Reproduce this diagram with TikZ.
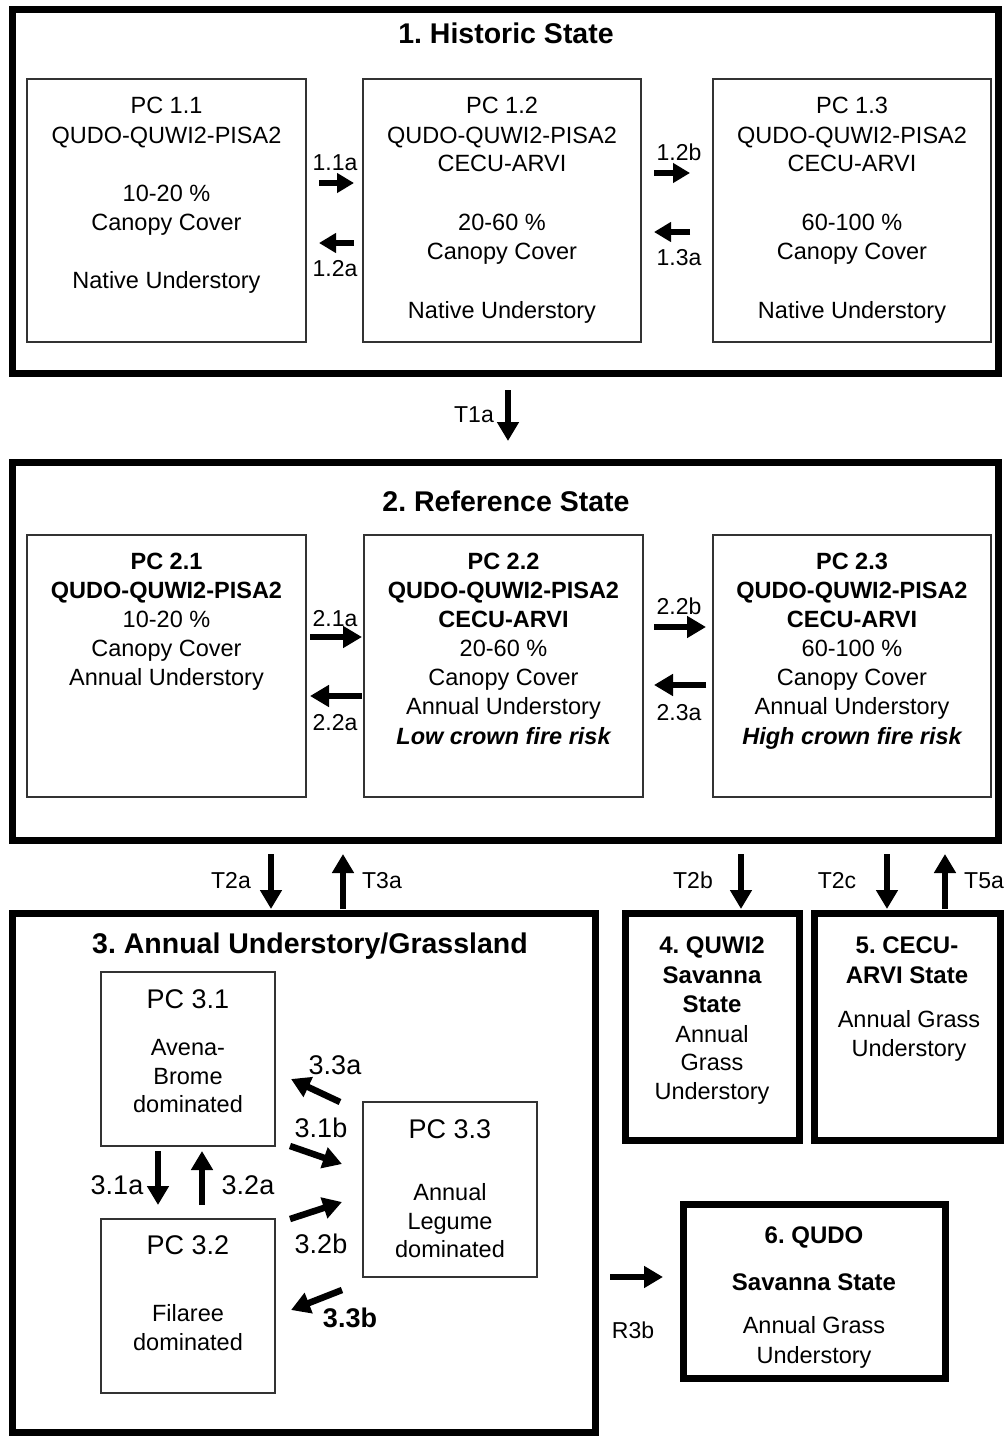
\documentclass[tikz,border=0pt]{standalone}
\usepackage{fontspec}
\setmainfont{Liberation Sans}
\usetikzlibrary{arrows.meta}
\frenchspacing
\newcommand\myN{\fontsize{23.5}{28}\selectfont}
\newcommand\myB{\fontsize{23.5}{28}\selectfont\bfseries}
\newcommand\myBI{\fontsize{23.5}{28}\selectfont\bfseries\itshape}
\newcommand\myT{\fontsize{28.5}{34}\selectfont\bfseries}
\newcommand\myP{\fontsize{27}{32}\selectfont}
\newcommand\myL{\fontsize{23}{28}\selectfont}
\newcommand\myLL{\fontsize{27}{32}\selectfont}
\newcommand\myS{\fontsize{24}{28}\selectfont\bfseries}
\newcommand\boxat[6]{\node[#1, minimum width={(#5-#3)*1pt}, minimum height={(#6-#4)*1pt}] (#2) at ({(#3+#5)/2},{(#4+#6)/2}) {};}
\tikzset{
  statebox/.style={draw=black, line width=7pt, inner sep=0pt, outer sep=0pt, rectangle},
  pcbox/.style={draw=black!80, line width=2pt, inner sep=0pt, outer sep=0pt, rectangle},
  tx/.style={anchor=mid, inner sep=0pt, yshift=-6pt, font=\myN},
  arr/.style={line width=6.5pt, -{Triangle[length=19pt,width=21pt]}},
  sarr/.style={line width=6pt, -{Triangle[length=17pt,width=19pt]}}
}
\begin{document}
\begin{tikzpicture}[x=1pt,y=-1pt]
\useasboundingbox (0,0) rectangle (1005,1437);
% ---------- state boxes ----------
\boxat{statebox}{s1}{12}{10}{998}{373}
\boxat{statebox}{s2}{12}{462}{998}{840}
\boxat{statebox}{s3}{12}{913}{595}{1432}
\boxat{statebox}{s4}{625}{913}{799}{1140}
\boxat{statebox}{s5}{814}{913}{1000}{1140}
\boxat{statebox}{s6}{683}{1204}{945}{1378}
% ---------- PC boxes ----------
\boxat{pcbox}{p11}{27}{79}{306}{342}
\boxat{pcbox}{p12}{363}{79}{641}{342}
\boxat{pcbox}{p13}{713}{79}{991}{342}
\boxat{pcbox}{p21}{27}{535}{306}{797}
\boxat{pcbox}{p22}{364}{535}{643}{797}
\boxat{pcbox}{p23}{713}{535}{991}{797}
\boxat{pcbox}{p31}{101}{972}{275}{1146}
\boxat{pcbox}{p32}{101}{1219}{275}{1393}
\boxat{pcbox}{p33}{363}{1102}{537}{1277}
% ---------- section 1 ----------
\node[tx,font=\myT] (t1) at (506,35) {1. Historic State};
\node[tx] (a1) at (166.5,105) {PC 1.1};
\node[tx] (a2) at (166.5,135) {QUDO-QUWI2-PISA2};
\node[tx] (a3) at (166.5,193) {10-20 \%};
\node[tx] (a4) at (166.5,222) {Canopy Cover};
\node[tx] (a5) at (166.5,280) {Native Understory};
\node[tx] (b1) at (502,105) {PC 1.2};
\node[tx] (b2) at (502,135) {QUDO-QUWI2-PISA2};
\node[tx] (b3) at (502,163) {CECU-ARVI};
\node[tx] (b4) at (502,222) {20-60 \%};
\node[tx] (b5) at (502,251) {Canopy Cover};
\node[tx] (b6) at (502,310) {Native Understory};
\node[tx] (c1) at (852,105) {PC 1.3};
\node[tx] (c2) at (852,135) {QUDO-QUWI2-PISA2};
\node[tx] (c3) at (852,163) {CECU-ARVI};
\node[tx] (c4) at (852,222) {60-100 \%};
\node[tx] (c5) at (852,251) {Canopy Cover};
\node[tx] (c6) at (852,310) {Native Understory};
\coordinate (e11s) at (319,183); \coordinate (e11e) at (354,183);
\coordinate (e12s) at (354,243); \coordinate (e12e) at (319,243);
\coordinate (e12bs) at (654,173); \coordinate (e12be) at (690,173);
\coordinate (e13s) at (690,232); \coordinate (e13e) at (654,232);
\draw[sarr] (e11s) -- (e11e);
\draw[sarr] (e12s) -- (e12e);
\draw[sarr] (e12bs) -- (e12be);
\draw[sarr] (e13s) -- (e13e);
\node[tx,font=\myL] (l11a) at (335,162) {1.1a};
\node[tx,font=\myL] (l12a) at (335,268) {1.2a};
\node[tx,font=\myL] (l12b) at (679,152) {1.2b};
\node[tx,font=\myL] (l13a) at (679,257) {1.3a};
% T1a
\coordinate (t1s) at (508,390); \coordinate (t1e) at (508,441);
\draw[arr] (t1s) -- (t1e);
\node[tx,font=\myL] (lt1a) at (474,414) {T1a};
% ---------- section 2 ----------
\node[tx,font=\myT] (t2) at (506,503) {2. Reference State};
\node[tx,font=\myB] (d1) at (166.5,561) {PC 2.1};
\node[tx,font=\myB] (d2) at (166.5,590) {QUDO-QUWI2-PISA2};
\node[tx] (d3) at (166.5,619) {10-20 \%};
\node[tx] (d4) at (166.5,648) {Canopy Cover};
\node[tx] (d5) at (166.5,677) {Annual Understory};
\node[tx,font=\myB] (f1) at (503.5,561) {PC 2.2};
\node[tx,font=\myB] (f2) at (503.5,590) {QUDO-QUWI2-PISA2};
\node[tx,font=\myB] (f3) at (503.5,619) {CECU-ARVI};
\node[tx] (f4) at (503.5,648) {20-60 \%};
\node[tx] (f5) at (503.5,677) {Canopy Cover};
\node[tx] (f6) at (503.5,706) {Annual Understory};
\node[tx,font=\myBI] (f7) at (503.5,736) {Low crown fire risk};
\node[tx,font=\myB] (g1) at (852,561) {PC 2.3};
\node[tx,font=\myB] (g2) at (852,590) {QUDO-QUWI2-PISA2};
\node[tx,font=\myB] (g3) at (852,619) {CECU-ARVI};
\node[tx] (g4) at (852,648) {60-100 \%};
\node[tx] (g5) at (852,677) {Canopy Cover};
\node[tx] (g6) at (852,706) {Annual Understory};
\node[tx,font=\myBI] (g7) at (852,736) {High crown fire risk};
\coordinate (e21s) at (310,637); \coordinate (e21e) at (362,637);
\coordinate (e22s) at (362,696); \coordinate (e22e) at (310,696);
\coordinate (e22bs) at (654,627); \coordinate (e22be) at (706,627);
\coordinate (e23s) at (706,685); \coordinate (e23e) at (654,685);
\draw[arr] (e21s) -- (e21e);
\draw[arr] (e22s) -- (e22e);
\draw[arr] (e22bs) -- (e22be);
\draw[arr] (e23s) -- (e23e);
\node[tx,font=\myL] (l21a) at (335,618) {2.1a};
\node[tx,font=\myL] (l22a) at (335,722) {2.2a};
\node[tx,font=\myL] (l22b) at (679,606) {2.2b};
\node[tx,font=\myL] (l23a) at (679,712) {2.3a};
% ---------- transitions row ----------
\coordinate (t2as) at (271,854); \coordinate (t2ae) at (271,909);
\coordinate (t3as) at (343,909); \coordinate (t3ae) at (343,854);
\coordinate (t2bs) at (741,854); \coordinate (t2be) at (741,909);
\coordinate (t2cs) at (887,854); \coordinate (t2ce) at (887,909);
\coordinate (t5as) at (945,909); \coordinate (t5ae) at (945,854);
\draw[arr] (t2as) -- (t2ae);
\draw[arr] (t3as) -- (t3ae);
\draw[arr] (t2bs) -- (t2be);
\draw[arr] (t2cs) -- (t2ce);
\draw[arr] (t5as) -- (t5ae);
\node[tx,font=\myL] (lt2a) at (231,880) {T2a};
\node[tx,font=\myL] (lt3a) at (382,880) {T3a};
\node[tx,font=\myL] (lt2b) at (693,880) {T2b};
\node[tx,font=\myL] (lt2c) at (837,880) {T2c};
\node[tx,font=\myL] (lt5a) at (984,880) {T5a};
% ---------- section 3 ----------
\node[tx,font=\myT] (t3) at (310,945) {3. Annual Understory/Grassland};
\node[tx,font=\myP] (h1) at (188,1000) {PC 3.1};
\node[tx] (h2) at (188,1047) {Avena-};
\node[tx] (h3) at (188,1076) {Brome};
\node[tx] (h4) at (188,1104) {dominated};
\node[tx,font=\myP] (i1) at (188,1246) {PC 3.2};
\node[tx] (i2) at (188,1313) {Filaree};
\node[tx] (i3) at (188,1342) {dominated};
\node[tx,font=\myP] (j1) at (450,1130) {PC 3.3};
\node[tx] (j2) at (450,1192) {Annual};
\node[tx] (j3) at (450,1221) {Legume};
\node[tx] (j4) at (450,1249) {dominated};
\coordinate (e31as) at (158,1151); \coordinate (e31ae) at (158,1205);
\coordinate (e32as) at (202,1205); \coordinate (e32ae) at (202,1151);
\coordinate (e33as) at (340,1102); \coordinate (e33ae) at (291,1079);
\coordinate (e31bs) at (290,1146); \coordinate (e31be) at (342,1164);
\coordinate (e32bs) at (290,1219); \coordinate (e32be) at (342,1202);
\coordinate (e33bs) at (342,1290); \coordinate (e33be) at (291,1310);
\draw[arr] (e31as) -- (e31ae);
\draw[arr] (e32as) -- (e32ae);
\draw[arr] (e33as) -- (e33ae);
\draw[arr] (e31bs) -- (e31be);
\draw[arr] (e32bs) -- (e32be);
\draw[arr] (e33bs) -- (e33be);
\node[tx,font=\myLL] (l31a) at (117,1186) {3.1a};
\node[tx,font=\myLL] (l32a) at (248,1186) {3.2a};
\node[tx,font=\myLL] (l33a) at (335,1066) {3.3a};
\node[tx,font=\myLL] (l31b) at (321,1129) {3.1b};
\node[tx,font=\myLL] (l32b) at (321,1245) {3.2b};
\node[tx,font=\myLL\bfseries] (l33b) at (350,1319) {3.3b};
% ---------- states 4,5,6 ----------
\node[tx,font=\myS] (k1) at (712,945) {4. QUWI2};
\node[tx,font=\myS] (k2) at (712,975) {Savanna};
\node[tx,font=\myS] (k3) at (712,1004) {State};
\node[tx] (k4) at (712,1034) {Annual};
\node[tx] (k5) at (712,1062) {Grass};
\node[tx] (k6) at (712,1091) {Understory};
\node[tx,font=\myS] (m1) at (907,945) {5. CECU-};
\node[tx,font=\myS] (m2) at (907,975) {ARVI State};
\node[tx] (m3) at (909,1019) {Annual Grass};
\node[tx] (m4) at (909,1048) {Understory};
\node[tx,font=\myS] (n1) at (814,1235) {6. QUDO};
\node[tx,font=\myS] (n2) at (814,1282) {Savanna State};
\node[tx] (n3) at (814,1325) {Annual Grass};
\node[tx] (n4) at (814,1355) {Understory};
\coordinate (r3bs) at (610,1277); \coordinate (r3be) at (663,1277);
\draw[arr] (r3bs) -- (r3be);
\node[tx,font=\myL] (lr3b) at (633,1330) {R3b};
\end{tikzpicture}
\end{document}
